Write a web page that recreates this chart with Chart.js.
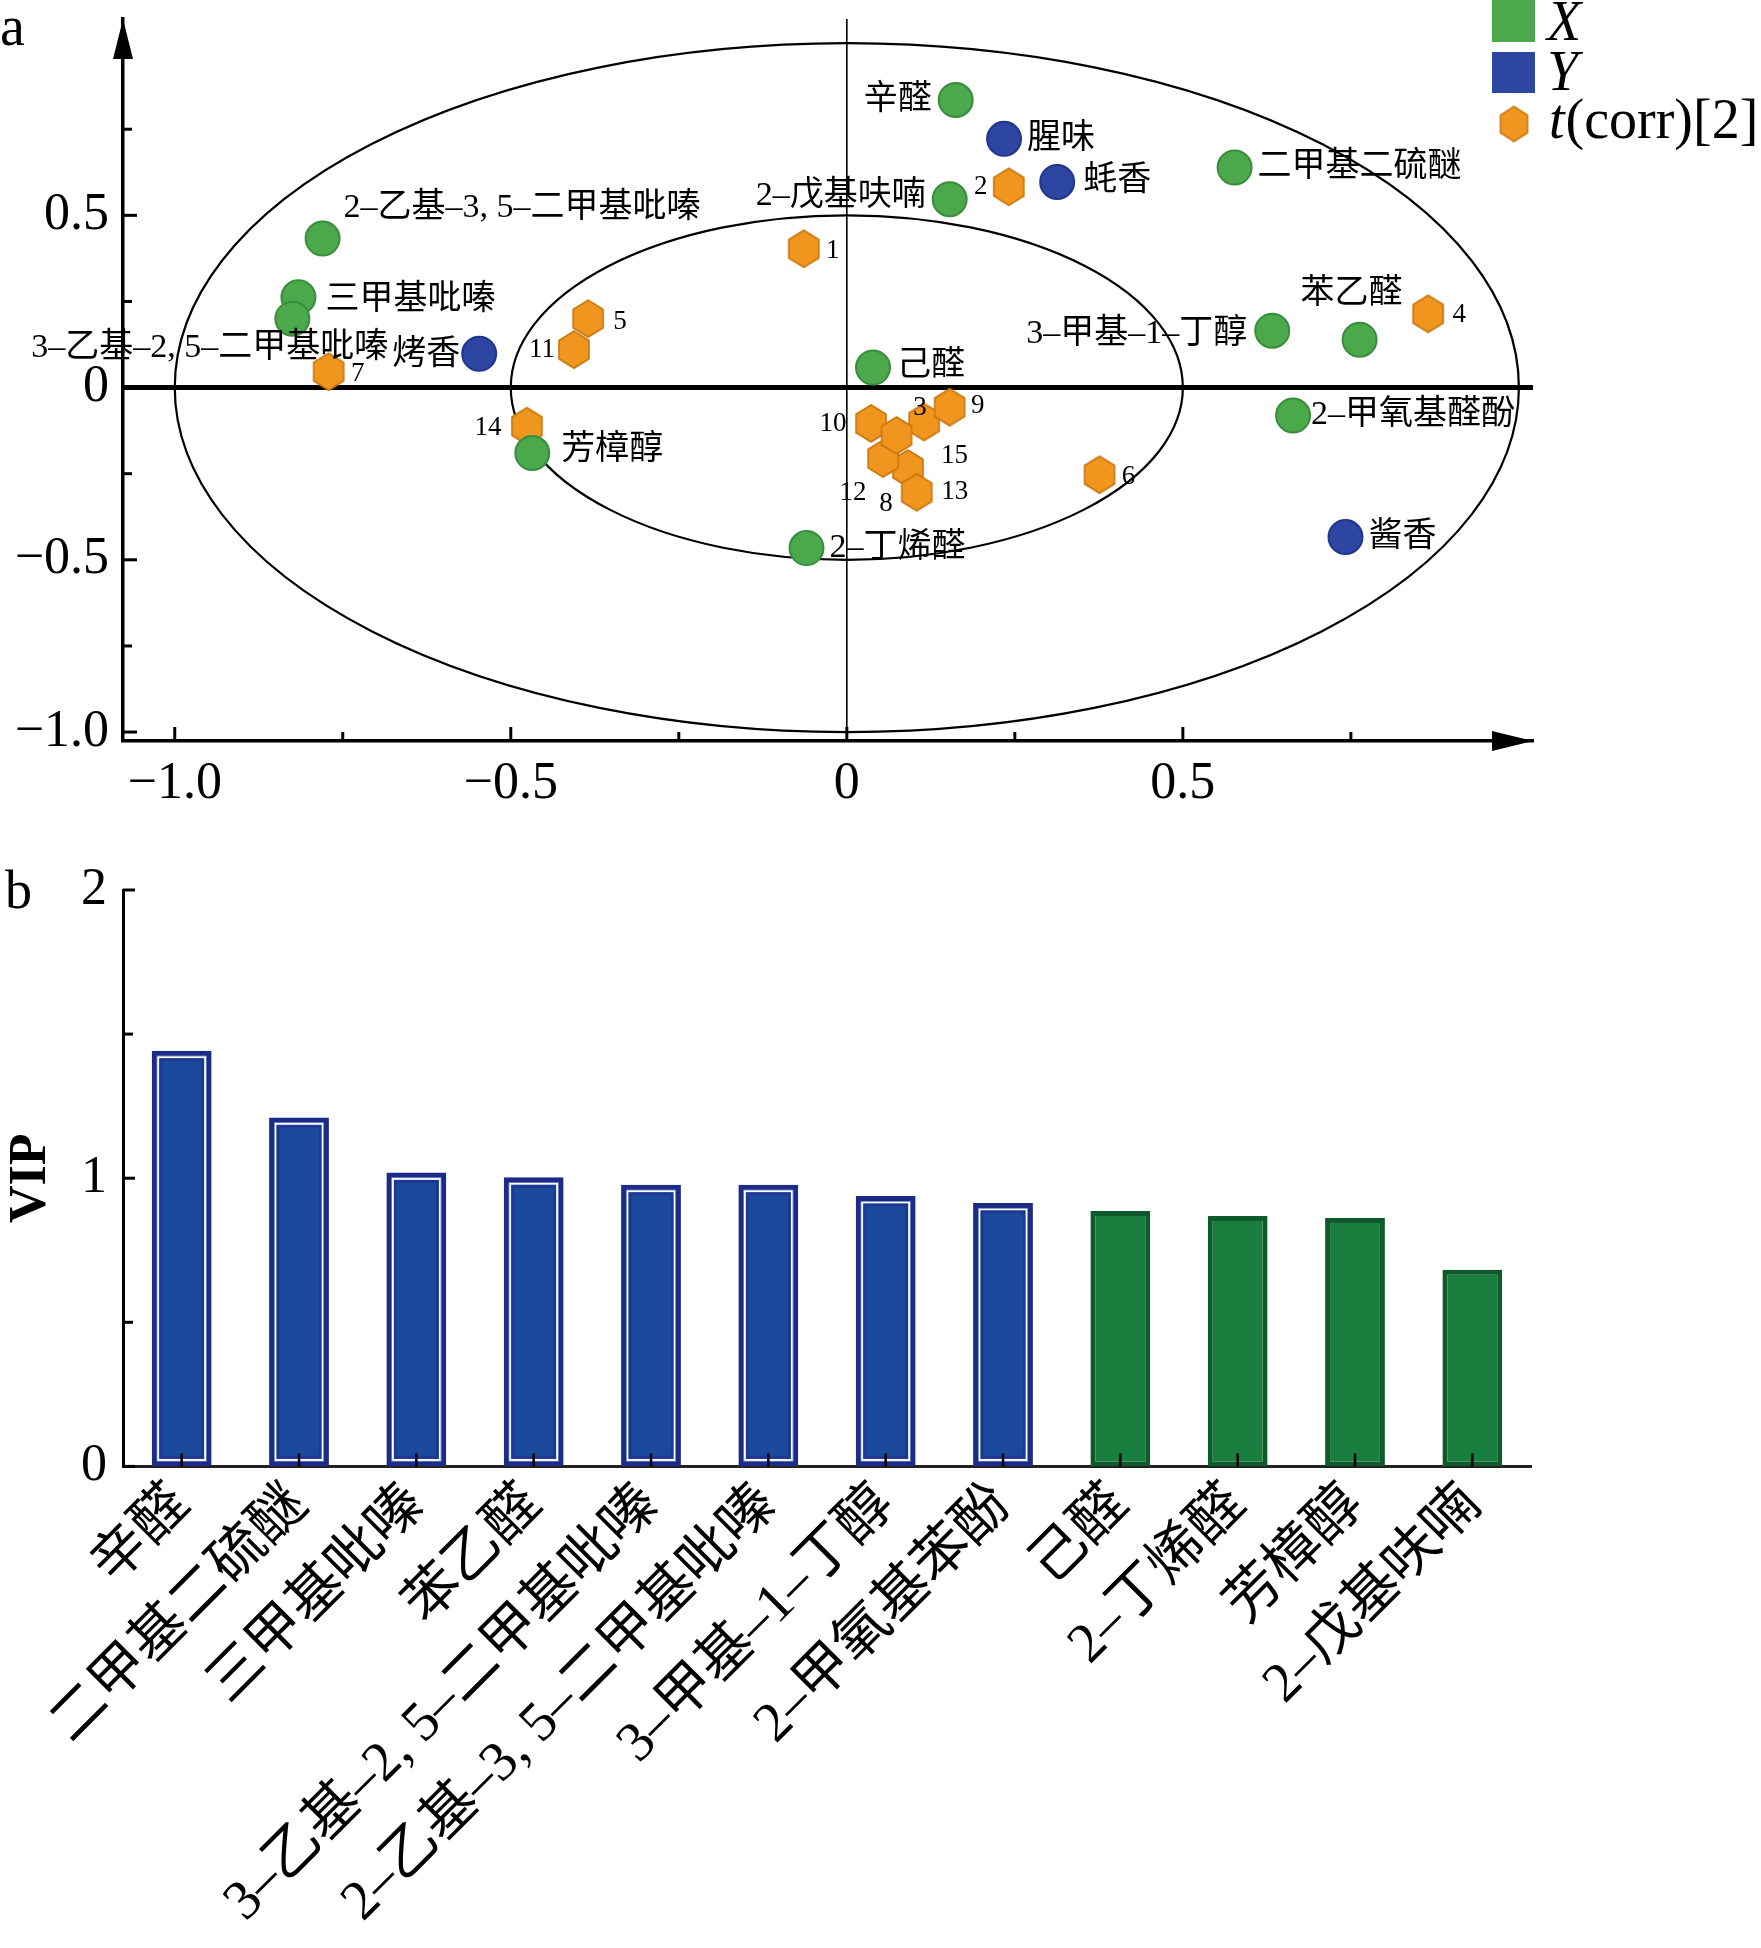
<!DOCTYPE html>
<html><head><meta charset="utf-8">
<script src="https://cdn.jsdelivr.net/npm/chart.js@4/dist/chart.umd.min.js"></script>
<style>
html,body{margin:0;padding:0;background:#fff;width:1761px;height:1948px;overflow:hidden}
canvas{position:absolute;left:0;display:block}
#ca{top:0}
#cb{top:830px}
</style></head><body>
<canvas id="ca" width="1761" height="830"></canvas>
<canvas id="cb" width="1761" height="1118"></canvas>
<script>
// ---------- data (panel a) ----------
const xNames = ['辛醛','二甲基二硫醚','三甲基吡嗪','苯乙醛','3–乙基–2, 5–二甲基吡嗪','2–乙基–3, 5–二甲基吡嗪','3–甲基–1–丁醇','2–甲氧基醛酚','己醛','2–丁烯醛','芳樟醇','2–戊基呋喃'];
const xP1 = [0.162, 0.577, -0.816, 0.763, -0.825, -0.780, 0.633, 0.664, 0.039, -0.060, -0.468, 0.153];
const xP2 = [0.835, 0.639, 0.262, 0.139, 0.200, 0.433, 0.165, -0.081, 0.058, -0.466, -0.190, 0.547];
const yNames = ['腥味','蚝香','烤香','酱香'];
const yP1 = [0.234, 0.313, -0.547, 0.742];
const yP2 = [0.722, 0.597, 0.098, -0.434];
const tNames = ['1','2','3','4','5','6','7','8','9','10','11','12','13','14','15'];
const tP1 = [-0.064, 0.241, 0.115, 0.865, -0.385, 0.376, -0.771, 0.091, 0.153, 0.036, -0.406, 0.054, 0.104, -0.476, 0.074];
const tP2 = [0.403, 0.583, -0.100, 0.214, 0.200, -0.253, 0.046, -0.235, -0.057, -0.104, 0.110, -0.206, -0.304, -0.112, -0.139];
const axisTicksA = [-1, -0.75, -0.5, -0.25, 0, 0.25, 0.5, 0.75];
const ellipseRadii = [1, 0.5];
// ---------- data (panel b) ----------
const barLabels = ['辛醛','二甲基二硫醚','三甲基吡嗪','苯乙醛','3–乙基–2, 5–二甲基吡嗪','2–乙基–3, 5–二甲基吡嗪','3–甲基–1–丁醇','2–甲氧基苯酚','己醛','2–丁烯醛','芳樟醇','2–戊基呋喃'];
const vipValues = [1.442, 1.211, 1.020, 1.003, 0.977, 0.977, 0.938, 0.914, 0.886, 0.869, 0.862, 0.682];
const vipTicks = [0, 0.5, 1, 1.5, 2];

// ---------- label placement (style) ----------
const xLabelPos = [[-24,0,'right'],[23,0,'left'],[27,3,'left'],[-8,-46,'center'],[96,29,'right'],[21,-30,'left'],[-25,3,'right'],[18,0,'left'],[24,-2,'left'],[23,0,'left'],[29,-3,'left'],[-24,-3,'right']];
const yLabelPos = [[23,0,'left'],[26,-1,'left'],[-19,1,'right'],[23,0,'left']];
const tLabelPos = [[29,2],[-28,0],[-4,-14],[31,1],[32,3],[29,2],[29,2],[-22,35],[28,-1],[-38,1],[-32,0],[-30,34],[38,0],[-39,2],[58,20]];

const SERIF = '"Liberation Serif", "Noto Sans CJK SC", serif';
const GREEN = '#4ba84b', GREEN_B = '#3a8d3c';
const BLUE = '#2d46a2', BLUE_B = '#22358c';
const ORANGE = '#f0951d', ORANGE_B = '#c7770f';

function hexCanvas(w, h) {
  const c = document.createElement('canvas');
  c.width = w + 4; c.height = h + 4;
  const g = c.getContext('2d');
  const cx = c.width / 2, cy = c.height / 2;
  g.beginPath();
  g.moveTo(cx, cy - h / 2);
  g.lineTo(cx + w / 2, cy - h / 4);
  g.lineTo(cx + w / 2, cy + h / 4);
  g.lineTo(cx, cy + h / 2);
  g.lineTo(cx - w / 2, cy + h / 4);
  g.lineTo(cx - w / 2, cy - h / 4);
  g.closePath();
  g.fillStyle = ORANGE; g.fill();
  g.lineWidth = 1.6; g.strokeStyle = ORANGE_B; g.stroke();
  return c;
}
const hexPoint = hexCanvas(30, 37);
const hexLegend = hexCanvas(27, 35);

function fmtA(v) {
  if (Math.abs(v * 2 - Math.round(v * 2)) > 1e-9) return '';
  if (v === 0) return '0';
  return (v < 0 ? '−' : '') + Math.abs(v).toFixed(1);
}
function zeroPad(s) { s.paddingTop = 0; s.paddingBottom = 0; s.paddingLeft = 0; s.paddingRight = 0; }

const decorA = {
  id: 'decorA',
  beforeDatasetsDraw(chart) {
    const { ctx, chartArea: ca, scales: { x, y } } = chart;
    const x0 = x.getPixelForValue(0), y0 = y.getPixelForValue(0);
    ctx.save();
    ctx.strokeStyle = '#000';
    ctx.lineWidth = 2.2;
    ellipseRadii.forEach(r => {
      ctx.beginPath();
      ctx.ellipse(x0, y0, x.getPixelForValue(r) - x0, y0 - y.getPixelForValue(r), 0, 0, Math.PI * 2);
      ctx.stroke();
    });
    ctx.lineWidth = 1.6;
    ctx.beginPath(); ctx.moveTo(x0, ca.top); ctx.lineTo(x0, ca.bottom); ctx.stroke();
    ctx.lineWidth = 5;
    ctx.beginPath(); ctx.moveTo(ca.left, y0); ctx.lineTo(ca.right, y0); ctx.stroke();
    ctx.lineWidth = 3;
    axisTicksA.forEach(v => {
      const major = fmtA(v) !== '';
      const len = major ? 14 : 9;
      const px = x.getPixelForValue(v);
      ctx.beginPath(); ctx.moveTo(px, ca.bottom); ctx.lineTo(px, ca.bottom - len); ctx.stroke();
      const py = y.getPixelForValue(v);
      ctx.beginPath(); ctx.moveTo(ca.left, py); ctx.lineTo(ca.left + len, py); ctx.stroke();
    });
    ctx.fillStyle = '#000';
    ctx.beginPath();
    ctx.moveTo(ca.left, ca.top); ctx.lineTo(ca.left + 10, ca.top + 40); ctx.lineTo(ca.left - 10, ca.top + 40); ctx.closePath(); ctx.fill();
    ctx.beginPath();
    ctx.moveTo(ca.right, ca.bottom); ctx.lineTo(ca.right - 41, ca.bottom - 10); ctx.lineTo(ca.right - 41, ca.bottom + 10); ctx.closePath(); ctx.fill();
    ctx.restore();
  },
  afterDatasetsDraw(chart) {
    const { ctx } = chart;
    ctx.save();
    ctx.fillStyle = '#000';
    ctx.textBaseline = 'middle';
    const drawSet = (di, names, pos, font) => {
      const meta = chart.getDatasetMeta(di);
      meta.data.forEach((pt, i) => {
        const p = pos[i];
        ctx.font = font;
        ctx.textAlign = p[2] || 'center';
        ctx.fillText(names[i], pt.x + p[0], pt.y + p[1]);
      });
    };
    drawSet(0, xNames, xLabelPos, '34px ' + SERIF);
    drawSet(1, yNames, yLabelPos, '34px ' + SERIF);
    drawSet(2, tNames, tLabelPos, '27px ' + SERIF);
    const ds = chart.data.datasets;
    ctx.fillStyle = ds[0].backgroundColor; ctx.fillRect(1492, 0, 43, 42);
    ctx.fillStyle = ds[1].backgroundColor; ctx.fillRect(1492, 52, 43, 41);
    ctx.drawImage(hexLegend, 1514 - hexLegend.width / 2, 124 - hexLegend.height / 2);
    ctx.fillStyle = '#000';
    ctx.textAlign = 'left'; ctx.textBaseline = 'alphabetic';
    ctx.font = 'italic 56px "Liberation Serif"';
    ctx.fillText(ds[0].label, 1547, 40);
    ctx.fillText(ds[1].label, 1547, 90);
    const lab = ds[2].label;
    ctx.font = 'italic 56px "Liberation Serif"';
    ctx.fillText(lab[0], 1549, 138);
    const w = ctx.measureText(lab[0]).width;
    ctx.font = '56px "Liberation Serif"';
    ctx.fillText(lab.slice(1), 1549 + w + 1, 138);
    ctx.font = '56px "Liberation Serif"';
    ctx.fillText('a', 0, 45);
    ctx.restore();
  }
};

new Chart(document.getElementById('ca'), {
  type: 'scatter',
  data: {
    datasets: [
      { label: 'X', data: xP1.map((v, i) => ({ x: v, y: xP2[i] })), pointStyle: 'circle', pointRadius: 17, backgroundColor: GREEN, borderColor: GREEN_B, borderWidth: 2 },
      { label: 'Y', data: yP1.map((v, i) => ({ x: v, y: yP2[i] })), pointStyle: 'circle', pointRadius: 17, backgroundColor: BLUE, borderColor: BLUE_B, borderWidth: 2 },
      { label: 't(corr)[2]', data: tP1.map((v, i) => ({ x: v, y: tP2[i] })), pointStyle: hexPoint, pointRadius: 17, backgroundColor: ORANGE, borderColor: ORANGE_B }
    ]
  },
  options: {
    responsive: false, animation: false, devicePixelRatio: 1,
    layout: { padding: { left: 0, top: 18, right: 228, bottom: 0 } },
    plugins: { legend: { display: false }, tooltip: { enabled: false } },
    scales: {
      x: {
        type: 'linear', min: -1.077, max: 1.021,
        afterBuildTicks: s => { s.ticks = axisTicksA.map(v => ({ value: v })); },
        afterFit: s => { s.height = 89; zeroPad(s); },
        grid: { display: false, drawTicks: false },
        border: { display: true, color: '#000', width: 3.5 },
        ticks: { autoSkip: false, maxRotation: 0, padding: 12, color: '#000', font: { family: 'Liberation Serif', size: 52 }, callback: v => fmtA(v) }
      },
      y: {
        type: 'linear', min: -1.026, max: 1.07,
        afterBuildTicks: s => { s.ticks = axisTicksA.map(v => ({ value: v })); },
        afterFit: s => { s.width = 123; zeroPad(s); },
        grid: { display: false, drawTicks: false },
        border: { display: true, color: '#000', width: 3.5 },
        ticks: { autoSkip: false, padding: 14, color: '#000', font: { family: 'Liberation Serif', size: 52 }, callback: v => fmtA(v) }
      }
    }
  },
  plugins: [decorA]
});

// ---------- panel b ----------
const HIGHLIGHT = 8;
const decorB = {
  id: 'decorB',
  afterDatasetsDraw(chart) {
    const { ctx, chartArea: ca, scales: { y } } = chart;
    const meta = chart.getDatasetMeta(0);
    ctx.save();
    meta.data.forEach((bar, i) => {
      const p = bar.getProps(['x', 'y', 'base', 'width'], true);
      const l = p.x - p.width / 2, top = p.y, h = p.base - p.y;
      if (i < HIGHLIGHT) {
        ctx.strokeStyle = '#ffffff'; ctx.lineWidth = 2;
        ctx.strokeRect(l + 6.5, top + 6.5, p.width - 13, h - 13);
        ctx.strokeStyle = '#1f3993'; ctx.lineWidth = 3;
        ctx.strokeRect(l + 9, top + 9, p.width - 18, h - 18);
      }
      ctx.strokeStyle = '#000'; ctx.lineWidth = 2.5;
      ctx.beginPath(); ctx.moveTo(p.x, p.base); ctx.lineTo(p.x, p.base - 13); ctx.stroke();
    });
    ctx.strokeStyle = '#000'; ctx.lineWidth = 3;
    vipTicks.forEach(v => {
      const py = y.getPixelForValue(v);
      const len = Number.isInteger(v) ? 12 : 10;
      ctx.beginPath(); ctx.moveTo(ca.left, py); ctx.lineTo(ca.left + len, py); ctx.stroke();
    });
    ctx.fillStyle = '#000';
    ctx.font = '54px "Liberation Serif"';
    ctx.textAlign = 'left'; ctx.textBaseline = 'alphabetic';
    ctx.fillText('b', 5, 78);
    ctx.restore();
  }
};

new Chart(document.getElementById('cb'), {
  type: 'bar',
  data: {
    labels: barLabels,
    datasets: [{
      label: 'VIP', data: vipValues,
      backgroundColor: c => c.dataIndex < HIGHLIGHT ? '#1b4a9d' : '#1a7e3e',
      borderColor: c => c.dataIndex < HIGHLIGHT ? '#1c2a88' : '#0f5a2d',
      borderWidth: 5, borderSkipped: false,
      barPercentage: 0.51, categoryPercentage: 1
    }]
  },
  options: {
    responsive: false, animation: false, devicePixelRatio: 1,
    layout: { padding: { left: 0, top: 60, right: 230, bottom: 0 } },
    plugins: { legend: { display: false }, tooltip: { enabled: false } },
    scales: {
      x: {
        afterFit: s => { s.height = 481.6; zeroPad(s); },
        grid: { display: false, drawTicks: false },
        border: { display: true, color: '#222', width: 3 },
        ticks: { autoSkip: false, minRotation: 45, maxRotation: 45, padding: 6, color: '#000', font: { family: SERIF, size: 56 } }
      },
      y: {
        min: 0, max: 2,
        afterBuildTicks: s => { s.ticks = vipTicks.map(v => ({ value: v })); },
        afterFit: s => { s.width = 123; zeroPad(s); },
        grid: { display: false, drawTicks: false },
        border: { display: true, color: '#000', width: 3 },
        ticks: { autoSkip: false, padding: 16, color: '#000', font: { family: 'Liberation Serif', size: 52 }, callback: v => Number.isInteger(v) ? String(v) : '' },
        title: { display: true, text: 'VIP', color: '#000', padding: 0, font: { family: 'Liberation Serif', size: 52, weight: 'bold' } }
      }
    }
  },
  plugins: [decorB]
});
</script>
</body></html>
